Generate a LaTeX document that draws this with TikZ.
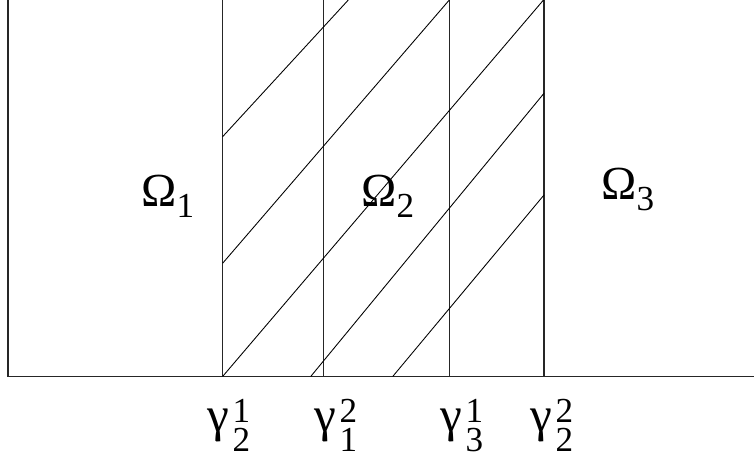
\documentclass[tikz,border=0pt]{standalone}
\usepackage{fontspec}
\setmainfont{Liberation Serif}
\usetikzlibrary{positioning}

\newcommand{\omlab}[1]{{\fontsize{27}{29}\selectfont Ω}%
  \raisebox{-0.22cm}{\fontsize{20}{22}\selectfont #1}}
\newcommand{\gamlab}[2]{{\fontsize{28}{30}\selectfont γ}\hspace{2pt}%
  \rlap{\raisebox{0.17cm}{\fontsize{20}{22}\selectfont #1}}%
  \raisebox{-0.42cm}{\fontsize{20}{22}\selectfont #2}}

\begin{document}
\begin{tikzpicture}[
  x=0.02cm, y=-0.02cm,
  bnd/.style   = {line width=0.6pt, black!85},
  axisln/.style = {line width=0.8pt, black!85},
  hatch/.style = {line width=0.5pt, black},
  lbl/.style   = {inner sep=0pt, anchor=base west},
]
\useasboundingbox (0,0) rectangle (754,476);

%%═══════════════════════════════════════════════════════════
%% Domain boundaries
%%═══════════════════════════════════════════════════════════

\coordinate (topL) at (8,0);
\coordinate (botL) at (8,376.5);
\coordinate (botR) at (754,376.5);

\draw[axisln] (topL) -- (botL) -- (botR);

\foreach \gx in {222.6, 323.3, 449.3, 544} {
  \draw[bnd] (\gx,0) -- (\gx,376.5);
}

%%═══════════════════════════════════════════════════════════
%% Overlap hatching
%%═══════════════════════════════════════════════════════════

\draw[hatch] (222.6,136.7) -- (348.3,0);
\draw[hatch] (222.6,263.3) -- (449.3,0);
\draw[hatch] (222.6,376.5) -- (543.5,0);
\draw[hatch] (310.7,376.5) -- (544,93.3);
\draw[hatch] (392.7,376.5) -- (544,195);

%%═══════════════════════════════════════════════════════════
%% Subdomain and interface labels
%%═══════════════════════════════════════════════════════════

\node[lbl] (om1) at (141,207) {\omlab{1}};
\node[lbl] (om2) at (361,207) {\omlab{2}};
\node[lbl] (om3) at (601,200) {\omlab{3}};

\node[lbl] (g21) at (207,431) {\gamlab{1}{2}};
\node[lbl] (g12) at (314,431) {\gamlab{2}{1}};
\node[lbl] (g31) at (440,431) {\gamlab{1}{3}};
\node[lbl] (g22) at (530,431) {\gamlab{2}{2}};

\end{tikzpicture}
\end{document}
